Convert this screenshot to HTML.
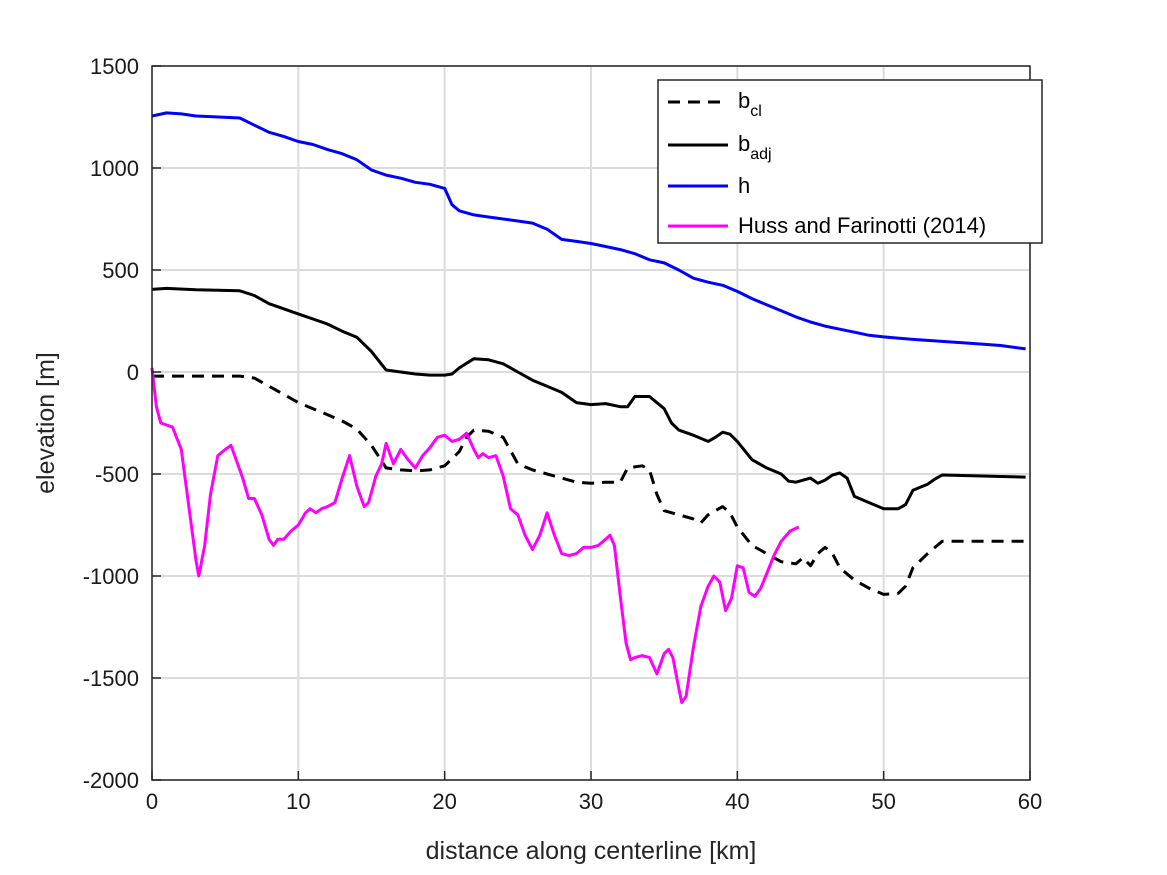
<!DOCTYPE html>
<html><head><meta charset="utf-8"><style>
body{margin:0;background:#fff;}
svg{display:block;font-family:"Liberation Sans",sans-serif;}
</style></head><body>
<svg id="chart" width="1167" height="875">
<g id="grid"></g>
<g id="series"></g>
<rect x="152" y="66" width="878" height="714" fill="none" stroke="#262626" stroke-width="1.5"/>
<g id="ticks"></g>
<text x="591" y="859" text-anchor="middle" font-size="25" fill="#262626">distance along centerline [km]</text>
<text transform="translate(54,423) rotate(-90)" text-anchor="middle" font-size="25" fill="#262626">elevation [m]</text>
<g>
<rect x="658" y="80" width="384" height="163" fill="#fff" stroke="#262626" stroke-width="1.5"/>
<line x1="668" y1="102" x2="728" y2="102" stroke="#000" stroke-width="3" stroke-dasharray="12,8"/>
<text x="738" y="108" font-size="22">b<tspan font-size="16" dy="8">cl</tspan></text>
<line x1="668" y1="145" x2="728" y2="145" stroke="#000" stroke-width="3"/>
<text x="738" y="151" font-size="22">b<tspan font-size="16" dy="8">adj</tspan></text>
<line x1="668" y1="186" x2="728" y2="186" stroke="#0000ff" stroke-width="3"/>
<text x="738" y="193" font-size="22">h</text>
<line x1="668" y1="226" x2="728" y2="226" stroke="#ff00ff" stroke-width="3"/>
<text x="738" y="233" font-size="22">Huss and Farinotti (2014)</text>
</g>
</svg>
<script>
const xTicks=[0,10,20,30,40,50,60];
const yTicks=[1500,1000,500,0,-500,-1000,-1500,-2000];
const hX=[0,1,2,3,4,6,7,8,9,10,11,12,13,14,15,16,17,18,19,20,20.5,21,22,23,24,25,26,27,28,29,30,31,32,33,34,35,36,37,38,39,40,41,42,43,44,45,46,47,48,49,50,52,54,56,58,59.7];
const hY=[1255,1270,1265,1255,1252,1245,1210,1175,1155,1130,1115,1090,1070,1040,990,965,950,930,920,900,820,790,770,760,750,740,730,700,650,640,630,615,600,580,550,535,500,460,440,425,395,360,330,300,270,245,225,210,195,180,172,160,150,140,130,113];
const adjX=[0,1,3,6,7,8,9,10,11,12,13,14,15,16,17,18,19,20,20.5,21,22,23,24,25,26,27,28,29,30,31,32,32.5,33,34,35,35.5,36,37,38,38.5,39,39.5,40,41,42,43,43.5,44,45,45.5,46,46.5,47,47.5,48,49,50,51,51.5,52,53,53.5,54,59.7];
const adjY=[405,410,403,398,375,335,310,285,260,235,200,170,100,10,0,-10,-15,-15,-10,20,65,60,40,0,-40,-70,-100,-150,-160,-155,-170,-170,-120,-120,-180,-250,-285,-310,-340,-320,-295,-305,-340,-430,-470,-500,-535,-540,-520,-545,-530,-505,-495,-520,-610,-640,-670,-670,-650,-580,-550,-525,-505,-515];
const clX=[0,6,7,8,9,10,11,12,13,14,15,16,17,18,19,20,21,21.5,22,23,24,25,26,27,28,29,30,31,32,32.5,33.5,34,34.5,35,36,37,37.5,38,39,39.5,40,41,42,43,44,44.5,45,45.5,46,46.5,47,48,49,50,51,51.5,52,53,54,59.7];
const clY=[-20,-20,-30,-70,-110,-150,-180,-210,-240,-280,-360,-470,-480,-485,-480,-460,-390,-320,-285,-290,-320,-450,-480,-500,-520,-540,-545,-540,-540,-470,-460,-480,-600,-680,-700,-720,-740,-700,-660,-690,-760,-850,-890,-930,-940,-910,-950,-890,-860,-890,-960,-1020,-1060,-1090,-1085,-1050,-960,-890,-830,-830];
const hfX=[0,0.3,0.6,1,1.4,2,2.5,3,3.2,3.6,4,4.5,5,5.4,5.8,6.2,6.6,7,7.5,8,8.3,8.6,9,9.5,10,10.5,10.8,11.2,11.6,12,12.5,13,13.5,14,14.5,14.8,15.3,15.7,16,16.5,17,17.5,18,18.5,19,19.5,20,20.5,21,21.5,22,22.3,22.6,23,23.5,24,24.5,25,25.5,26,26.5,27,27.5,28,28.5,29,29.5,30,30.5,31,31.3,31.6,32,32.4,32.7,33,33.5,34,34.5,35,35.3,35.6,36,36.2,36.5,37,37.5,38,38.4,38.8,39.2,39.6,40,40.4,40.8,41.2,41.6,42,42.5,43,43.6,44.2];
const hfY=[20,-170,-250,-260,-270,-380,-650,-920,-1000,-850,-600,-410,-380,-360,-440,-520,-620,-620,-700,-820,-850,-820,-820,-780,-750,-690,-670,-690,-670,-660,-640,-520,-410,-560,-660,-640,-510,-450,-350,-450,-380,-430,-470,-410,-370,-320,-310,-340,-330,-300,-380,-420,-400,-420,-410,-510,-670,-700,-800,-870,-800,-690,-800,-890,-900,-890,-860,-860,-850,-820,-800,-850,-1100,-1330,-1410,-1400,-1390,-1400,-1480,-1380,-1360,-1400,-1550,-1620,-1590,-1350,-1150,-1050,-1000,-1030,-1170,-1110,-950,-960,-1080,-1100,-1060,-990,-900,-830,-780,-760];

const NS='http://www.w3.org/2000/svg';
const sx=v=>152+v*878/60;
const sy=v=>66+(1500-v)*714/3500;
function mk(tag,attrs,parent){const e=document.createElementNS(NS,tag);for(const k in attrs)e.setAttribute(k,attrs[k]);document.getElementById(parent).appendChild(e);return e;}
xTicks.forEach(t=>{
 const g=mk('line',{x1:sx(t),x2:sx(t),y1:66,y2:780,stroke:'#dcdcdc','stroke-width':2},'grid');
 
 
 const tk=mk('line',{x1:sx(t),x2:sx(t),y1:780,y2:771,stroke:'#262626','stroke-width':1.5},'ticks');
 
 
 const tx=mk('text',{x:sx(t),y:809,'text-anchor':'middle','font-size':22,fill:'#1a1a1a'},'ticks');
 tx.textContent=t;
 
 
});
yTicks.forEach(t=>{
 const g=mk('line',{x1:152,x2:1030,y1:sy(t),y2:sy(t),stroke:'#dcdcdc','stroke-width':2},'grid');
 
 
 const tk=mk('line',{x1:152,x2:161,y1:sy(t),y2:sy(t),stroke:'#262626','stroke-width':1.5},'ticks');
 
 
 const tx=mk('text',{x:139,y:sy(t)+8,'text-anchor':'end','font-size':22,fill:'#1a1a1a'},'ticks');
 tx.textContent=t;
 
 
});
function line(xs,ys,color,dash,name){
 const d=xs.map((x,i)=>(i?'L':'M')+sx(x).toFixed(1)+','+sy(ys[i]).toFixed(1)).join('');
 const p=mk('path',{d:d,fill:'none',stroke:color,'stroke-width':3,'stroke-linejoin':'round'},'series');
 if(dash)p.setAttribute('stroke-dasharray',dash);
 
 
}
line(hX,hY,'#0000ff',null,'line-h');
line(adjX,adjY,'#000',null,'line-badj');
line(clX,clY,'#000','12,8','line-bcl');
line(hfX,hfY,'#ff00ff',null,'line-huss-farinotti');
</script>
</body></html>
